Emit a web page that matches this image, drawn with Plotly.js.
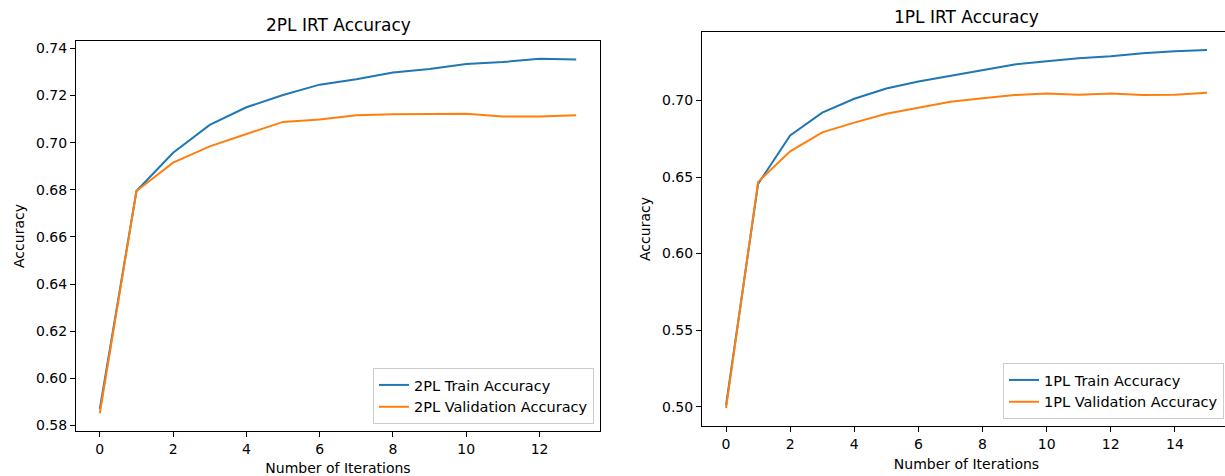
<!DOCTYPE html>
<html>
<head>
<meta charset="utf-8">
<script src="https://cdn.plot.ly/plotly-3.0.1.min.js"></script>
<style>
  html, body { margin: 0; padding: 0; overflow: hidden; background: #fff; }
  #chart { width: 1232px; height: 476px; }
</style>
</head>
<body>
<div id="chart"></div>
<script>
// ---- data ----
const iters2PL = [0, 1, 2, 3, 4, 5, 6, 7, 8, 9, 10, 11, 12, 13];
const train2PL = [0.5870, 0.6795, 0.6957, 0.7075, 0.7150, 0.7202, 0.7246, 0.7269, 0.7298, 0.7312, 0.7334, 0.7342, 0.7356, 0.7353];
const val2PL   = [0.5852, 0.6795, 0.6915, 0.6984, 0.7037, 0.7088, 0.7098, 0.7116, 0.7121, 0.7121, 0.7123, 0.7111, 0.7111, 0.7116];

const iters1PL = [0, 1, 2, 3, 4, 5, 6, 7, 8, 9, 10, 11, 12, 13, 14, 15];
const train1PL = [0.5010, 0.6455, 0.6772, 0.6920, 0.7011, 0.7078, 0.7124, 0.7161, 0.7200, 0.7235, 0.7256, 0.7276, 0.7289, 0.7308, 0.7321, 0.7330];
const val1PL   = [0.4991, 0.6468, 0.6668, 0.6792, 0.6855, 0.6913, 0.6952, 0.6991, 0.7015, 0.7035, 0.7046, 0.7037, 0.7046, 0.7035, 0.7037, 0.7050];

const titles = ["2PL IRT Accuracy", "1PL IRT Accuracy"];
const xTitle = "Number of Iterations";
const yTitle = "Accuracy";
const names2PL = ["2PL Train Accuracy", "2PL Validation Accuracy"];
const names1PL = ["1PL Train Accuracy", "1PL Validation Accuracy"];

// ---- layout helpers ----
const W = 1232, H = 476;
const BLUE = "#1f77b4", ORANGE = "#ff7f0e";
const FONT = "DejaVu Sans, sans-serif";

function pad(arrs) {
  const all = [].concat(...arrs);
  const lo = Math.min(...all), hi = Math.max(...all);
  const m = (hi - lo) * 0.05;
  return [lo - m, hi + m];
}
const px = v => v / W;
const py = v => 1 - v / H;

const traces = [
  {x: iters2PL, y: train2PL, name: names2PL[0], type: "scatter", mode: "lines",
   line: {color: BLUE, width: 2}, xaxis: "x", yaxis: "y", legend: "legend"},
  {x: iters2PL, y: val2PL, name: names2PL[1], type: "scatter", mode: "lines",
   line: {color: ORANGE, width: 2}, xaxis: "x", yaxis: "y", legend: "legend"},
  {x: iters1PL, y: train1PL, name: names1PL[0], type: "scatter", mode: "lines",
   line: {color: BLUE, width: 2}, xaxis: "x2", yaxis: "y2", legend: "legend2"},
  {x: iters1PL, y: val1PL, name: names1PL[1], type: "scatter", mode: "lines",
   line: {color: ORANGE, width: 2}, xaxis: "x2", yaxis: "y2", legend: "legend2"}
];

const axisCommon = {
  showgrid: false, zeroline: false, showline: true, linecolor: "#000", linewidth: 1,
  mirror: true, ticks: "outside", ticklen: 5, tickwidth: 1, tickcolor: "#000",
  tickfont: {family: FONT, size: 14, color: "#000"}, automargin: false
};

const legendCommon = {
  bgcolor: "rgba(255,255,255,0.8)", bordercolor: "#cccccc", borderwidth: 1,
  font: {family: FONT, size: 14.5, color: "#000"}, xanchor: "right", yanchor: "bottom",
  traceorder: "normal"
};

const layout = {
  width: W, height: H,
  margin: {l: 0, r: 0, t: 0, b: 0},
  paper_bgcolor: "#fff", plot_bgcolor: "#fff",
  showlegend: true,
  xaxis: Object.assign({}, axisCommon, {
    domain: [px(76), px(600)], range: pad([iters2PL]), dtick: 2, tick0: 0, anchor: "y",
    title: {text: xTitle, font: {family: FONT, size: 14, color: "#000"}, standoff: 8}
  }),
  yaxis: Object.assign({}, axisCommon, {
    domain: [py(431), py(41)], range: pad([train2PL, val2PL]), dtick: 0.02, tick0: 0,
    tickformat: ".2f", anchor: "x",
    title: {text: yTitle, font: {family: FONT, size: 14, color: "#000"}, standoff: 8}
  }),
  xaxis2: Object.assign({}, axisCommon, {
    domain: [px(702), px(1231)], range: pad([iters1PL]), dtick: 2, tick0: 0, anchor: "y2",
    title: {text: xTitle, font: {family: FONT, size: 14, color: "#000"}, standoff: 8}
  }),
  yaxis2: Object.assign({}, axisCommon, {
    domain: [py(426), py(32)], range: pad([train1PL, val1PL]), dtick: 0.05, tick0: 0,
    tickformat: ".2f", anchor: "x2",
    title: {text: yTitle, font: {family: FONT, size: 14, color: "#000"}, standoff: 8}
  }),
  legend: Object.assign({}, legendCommon, {x: px(594), y: py(424)}),
  legend2: Object.assign({}, legendCommon, {x: px(1224), y: py(419)}),
  annotations: [
    {text: titles[0], xref: "paper", yref: "paper", x: px(338), y: py(25),
     xanchor: "center", yanchor: "middle", showarrow: false,
     font: {family: FONT, size: 17, color: "#000"}},
    {text: titles[1], xref: "paper", yref: "paper", x: px(966.5), y: py(17),
     xanchor: "center", yanchor: "middle", showarrow: false,
     font: {family: FONT, size: 17, color: "#000"}}
  ]
};

Plotly.newPlot("chart", traces, layout, {staticPlot: true, displayModeBar: false});
</script>
</body>
</html>
